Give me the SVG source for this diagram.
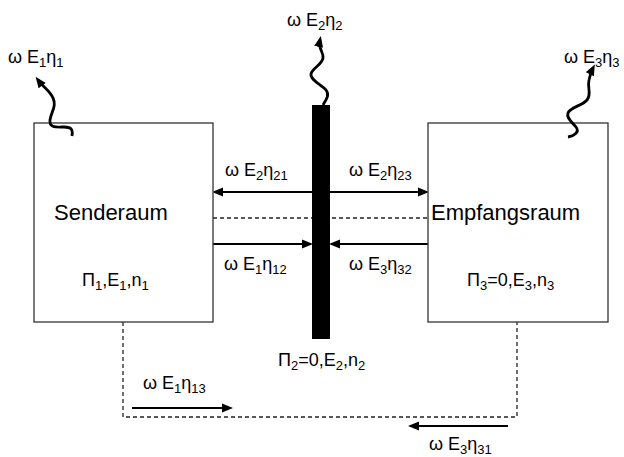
<svg xmlns="http://www.w3.org/2000/svg" width="624" height="457" viewBox="0 0 624 457">
<defs>
<marker id="ah" markerUnits="userSpaceOnUse" markerWidth="12" markerHeight="10" refX="9" refY="4.5" orient="auto" viewBox="0 0 12 9">
<path d="M0,0 L11,4.5 L0,9 z" fill="#000"/>
</marker>
<marker id="wh" markerUnits="userSpaceOnUse" markerWidth="12" markerHeight="10" refX="7" refY="4.5" orient="auto" viewBox="0 0 12 9">
<path d="M0,0 L11,4.5 L0,9 z" fill="#000"/>
</marker>
</defs>
<style>
text{font-family:"Liberation Sans",Arial,sans-serif;font-size:18px;fill:#000}
.big{font-size:22px}
.sub{font-size:13px}
.box{fill:#fff;stroke:#333;stroke-width:1.3}
.arr{stroke:#000;stroke-width:2;fill:none;marker-end:url(#ah)}
.wave{stroke:#000;stroke-width:2.8;fill:none;marker-end:url(#wh)}
.dash{stroke:#222;stroke-width:1.3;fill:none;stroke-dasharray:4 3}
</style>
<rect width="624" height="457" fill="#fff"/>

<g id="connectors">
<path class="dash" d="M123,322 V417 H517 V322"/>
<path class="dash" d="M213,218 H428"/>
<path class="arr" d="M312,192 H214"/>
<path class="arr" d="M330,192 H427"/>
<path class="arr" d="M213,244 H311"/>
<path class="arr" d="M428,244 H331"/>
<path class="arr" d="M132,408 H231"/>
<path class="arr" d="M508,426 H410"/>
</g>

<g id="senderaum">
<rect class="box" x="34" y="123" width="179" height="199"/>
<text class="big" x="54" y="220">Senderaum</text>
<text x="82" y="286">Π<tspan class="sub" dy="4">1</tspan><tspan dy="-4">,E</tspan><tspan class="sub" dy="4">1</tspan><tspan dy="-4">,n</tspan><tspan class="sub" dy="4">1</tspan></text>
</g>

<g id="empfangsraum">
<rect class="box" x="428" y="123" width="180" height="199"/>
<text class="big" x="431" y="220">Empfangsraum</text>
<text x="467" y="286">Π<tspan class="sub" dy="4">3</tspan><tspan dy="-4">=0,E</tspan><tspan class="sub" dy="4">3</tspan><tspan dy="-4">,n</tspan><tspan class="sub" dy="4">3</tspan></text>
</g>

<g id="wand">
<rect x="312" y="105" width="18" height="234" fill="#000"/>
<text x="278" y="366">Π<tspan class="sub" dy="4">2</tspan><tspan dy="-4">=0,E</tspan><tspan class="sub" dy="4">2</tspan><tspan dy="-4">,n</tspan><tspan class="sub" dy="4">2</tspan></text>
</g>

<g id="radiation">
<path class="wave" d="M72,136 C73,130 72,127 64,127 C56,127 49,128 50,120 C51,112 57,106 53,98 C50,91 44,88 38,80"/>
<text x="8" y="63">ω E<tspan class="sub" dy="4">1</tspan><tspan dy="-4">η</tspan><tspan class="sub" dy="4">1</tspan></text>
<path class="wave" d="M323,105 C326,100 330,95 326,90 C322,85 310,80 311,74 C312,68 322,65 323,58 C324,52 318,50 320,40"/>
<text x="287" y="26">ω E<tspan class="sub" dy="4">2</tspan><tspan dy="-4">η</tspan><tspan class="sub" dy="4">2</tspan></text>
<path class="wave" d="M568,137 C574,136 580,132 576,127 C572,122 566,118 568,113 C570,107 582,106 587,100 C592,94 587,88 589,80 C590,75 591,72 593,68"/>
<text x="564" y="63">ω E<tspan class="sub" dy="4">3</tspan><tspan dy="-4">η</tspan><tspan class="sub" dy="4">3</tspan></text>
</g>

<g id="labels">
<text x="225" y="176">ω E<tspan class="sub" dy="4">2</tspan><tspan dy="-4">η</tspan><tspan class="sub" dy="4">21</tspan></text>
<text x="349" y="176">ω E<tspan class="sub" dy="4">2</tspan><tspan dy="-4">η</tspan><tspan class="sub" dy="4">23</tspan></text>
<text x="224" y="270">ω E<tspan class="sub" dy="4">1</tspan><tspan dy="-4">η</tspan><tspan class="sub" dy="4">12</tspan></text>
<text x="349" y="270">ω E<tspan class="sub" dy="4">3</tspan><tspan dy="-4">η</tspan><tspan class="sub" dy="4">32</tspan></text>
<text x="143" y="389">ω E<tspan class="sub" dy="4">1</tspan><tspan dy="-4">η</tspan><tspan class="sub" dy="4">13</tspan></text>
<text x="429" y="450">ω E<tspan class="sub" dy="4">3</tspan><tspan dy="-4">η</tspan><tspan class="sub" dy="4">31</tspan></text>
</g>
</svg>
